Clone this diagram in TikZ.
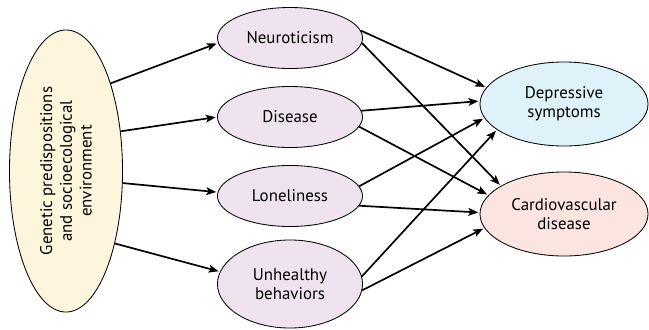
\documentclass[tikz,border=0pt]{standalone}
\usepackage{fontspec}
\setmainfont{PT Sans}
\usepackage{tikz}
\usetikzlibrary{shapes,arrows,arrows.meta}
\definecolor{genfill}{HTML}{FDF6DC}
\definecolor{midfill}{HTML}{EEE3EF}
\definecolor{depfill}{HTML}{DFF2FA}
\definecolor{carfill}{HTML}{FCE4E1}
\begin{document}
\begin{tikzpicture}[x=0.025cm,y=-0.025cm,
  oval/.style={ellipse,draw,line width=0.6pt,inner sep=0pt,align=center,font=\fontsize{12}{13.5}\selectfont},
  midoval/.style={oval,fill=midfill,minimum width=3.625cm,minimum height=1.525cm},
  outoval/.style={oval,fill=depfill,minimum width=4.2cm,minimum height=2.1cm},
  link/.style={-{Stealth[length=7pt,width=5.5pt,inset=1.5pt]},line width=1.2pt,shorten >=1pt}]
\useasboundingbox (0,0) rectangle (649,329);
%-------->nodes<--------------
\node[oval,fill=genfill,minimum width=2.825cm,minimum height=7.05cm] (gen) at (66,171) {}; % left
\node[rotate=90,align=center,font=\fontsize{12}{14}\selectfont] (gentext) at (gen) {Genetic predispositions\\and socioecological\\environment};
\node[midoval] (neu) at (290,38) {Neuroticism};
\node[midoval] (dis) at (290,117) {Disease};
\node[midoval] (lon) at (290,196) {Loneliness};
\node[midoval,minimum height=2.2cm] (unh) at (290,284) {Unhealthy\\behaviors};
\node[outoval] (dep) at (564,104) {Depressive\\symptoms};
\node[outoval,fill=carfill] (car) at (564,214) {Cardiovascular\\disease};
%------------->left arrows<------------------
\draw[link] (gen.63) -- (neu.184);
\draw[link] (gen.36) -- (dis.west);
\draw[link] (gen.-12) -- (lon.177);
\draw[link] (gen.-56) -- (unh.170);
%------------->right arrows<------------------
\draw[link] (neu.6) -- (dep.168);
\draw[link] (neu.-4) -- (car.156);
\draw[link] (dis.5) -- (dep.178);
\draw[link] (dis.-8) -- (car.166);
\draw[link] (lon.8) -- (dep.190);
\draw[link] (lon.-8) -- (car.179);
\draw[link] (unh.6) -- (dep.201);
\draw[link] (unh.-5) -- (car.190);
\end{tikzpicture}
\end{document}
